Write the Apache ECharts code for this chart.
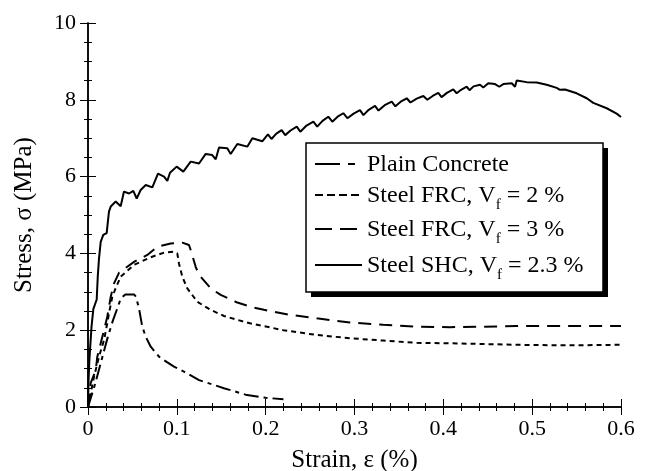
<!DOCTYPE html>
<html lang="en">
<head>
    <meta charset="UTF-8">
    <title>Stress-strain</title>
    <script src="https://cdn.jsdelivr.net/npm/echarts@6/dist/echarts.min.js"></script>
</head>
<body style="margin:0">
    <div id="main" style="width: 656px; height: 471px"></div>
    <script>
        // curves: [strain %, stress MPa]
        var plainConcrete = [[0,0],[0.008,0.6],[0.015,1.2],[0.022,1.8],[0.028,2.25],[0.033,2.57],[0.037,2.83],[0.042,2.93],
            [0.052,2.93],[0.054,2.87],[0.0574,2.57],[0.0611,2.09],[0.065,1.83],[0.0706,1.57],[0.0799,1.31],[0.0856,1.22],
            [0.0968,1.05],[0.108,0.92],[0.125,0.70],[0.153,0.49],[0.179,0.31],[0.2,0.24],[0.22,0.2]];

        var frc2 = [[0,0],[0.0068,0.79],[0.0124,1.31],[0.018,1.74],[0.0217,2.18],[0.0236,2.44],[0.0274,2.87],[0.0312,3.1],
            [0.037,3.4],[0.0518,3.7],[0.0706,3.9],[0.0856,4.02],[0.0949,4.04],[0.1005,4.0],[0.1024,3.74],[0.1062,3.39],
            [0.1118,3.09],[0.123,2.74],[0.1381,2.53],[0.1531,2.37],[0.1756,2.22],[0.1824,2.18],[0.2199,2.0],[0.2574,1.875],
            [0.2949,1.79],[0.3324,1.73],[0.37,1.67],[0.4075,1.66],[0.445,1.64],[0.4826,1.62],[0.52,1.61],[0.5576,1.61],[0.6,1.62]];

        var frc3 = [[0,0],[0.003,0.62],[0.0087,0.96],[0.0105,1.31],[0.0143,1.66],[0.018,2.0],[0.0217,2.35],[0.0256,2.87],
            [0.0293,3.22],[0.035,3.5],[0.0518,3.78],[0.0668,3.96],[0.078,4.17],[0.0931,4.26],[0.1062,4.28],[0.1137,4.22],
            [0.1163,4.04],[0.1212,3.65],[0.125,3.44],[0.1381,3.09],[0.1494,2.92],[0.1681,2.72],[0.1831,2.61],[0.198,2.53],
            [0.2274,2.40],[0.2574,2.31],[0.2949,2.20],[0.3324,2.14],[0.37,2.09],[0.4075,2.08],[0.445,2.09],[0.4826,2.11],
            [0.52,2.11],[0.5576,2.11],[0.6,2.11]];

        var shc = [[0,0],[0.0005,0.6],[0.0015,1.2],[0.0023,1.5],[0.004,2.1],[0.006,2.55],[0.0098,2.8],[0.011,3.4],[0.0124,3.87],
            [0.0143,4.3],[0.0172,4.48],[0.021,4.53],[0.0236,5.09],[0.0256,5.22],[0.0312,5.35],[0.0368,5.23],[0.0405,5.61],
            [0.0462,5.56],[0.051,5.63],[0.0548,5.43],[0.0593,5.65],[0.065,5.78],[0.0724,5.72],[0.0788,6.08],[0.0856,6.0],
            [0.0893,5.89],[0.0923,6.1],[0.0998,6.26],[0.1073,6.13],[0.1156,6.39],[0.125,6.34],[0.1325,6.59],[0.1399,6.56],
            [0.1438,6.45],[0.1475,6.76],[0.1568,6.74],[0.1606,6.59],[0.1681,6.85],[0.1793,6.78],[0.185,7.0],[0.1962,6.92],
            [0.2025,7.10],[0.2065,6.98],[0.212,7.12],[0.218,7.21],[0.222,7.08],[0.228,7.20],[0.235,7.30],[0.239,7.17],
            [0.246,7.33],[0.2537,7.43],[0.258,7.30],[0.264,7.45],[0.2705,7.56],[0.275,7.43],[0.281,7.56],[0.2874,7.65],
            [0.292,7.52],[0.299,7.64],[0.3062,7.73],[0.310,7.60],[0.316,7.74],[0.3231,7.84],[0.327,7.72],[0.334,7.86],
            [0.3419,7.95],[0.346,7.83],[0.352,7.95],[0.3588,8.04],[0.363,7.93],[0.370,8.03],[0.3775,8.10],[0.382,8.00],
            [0.388,8.10],[0.3943,8.18],[0.398,8.07],[0.404,8.18],[0.4112,8.27],[0.415,8.17],[0.42,8.26],[0.4263,8.34],
            [0.4295,8.25],[0.434,8.35],[0.4413,8.39],[0.445,8.32],[0.4506,8.43],[0.4582,8.41],[0.463,8.34],[0.4675,8.41],
            [0.477,8.43],[0.4807,8.34],[0.4826,8.50],[0.4938,8.46],[0.5051,8.45],[0.5163,8.39],[0.5276,8.31],[0.5313,8.26],
            [0.537,8.27],[0.5501,8.17],[0.5614,8.04],[0.5688,7.92],[0.5839,7.78],[0.5951,7.64],[0.6,7.55]];

        var names = ['Plain Concrete', 'Steel FRC, V{sub|f} = 2 %', 'Steel FRC, V{sub|f} = 3 %', 'Steel SHC, V{sub|f} = 2.3 %'];
        var font = 'Liberation Serif';

        function mkSeries(name, data, dash) {
            return {
                name: name, type: 'line', data: data, symbol: 'none',
                lineStyle: {color: '#000', width: 2, type: dash},
                itemStyle: {color: '#000'}
            };
        }

        // legend is drawn by hand: box with a solid drop shadow, line samples, rich text for the subscript
        var legendRows = [
            {y: 164, dash: [25, 8, 7, 30]},
            {y: 195, dash: [8, 4]},
            {y: 229, dash: [17, 8]},
            {y: 265, dash: null}
        ];
        var legendGraphics = [
            {type: 'rect', shape: {x: 311, y: 148, width: 297, height: 149}, style: {fill: '#000'}},
            {type: 'rect', shape: {x: 306, y: 143, width: 297, height: 149}, style: {fill: '#fff', stroke: '#000', lineWidth: 1.5}}
        ];
        legendRows.forEach(function(r, i) {
            legendGraphics.push({
                type: 'line', shape: {x1: 315, y1: r.y, x2: 362, y2: r.y},
                style: {stroke: '#000', lineWidth: 1.8, lineDash: r.dash}
            });
            legendGraphics.push({
                type: 'text', x: 367, y: r.y + 1,
                style: {
                    text: names[i], font: '24px "' + font + '"', fill: '#000', verticalAlign: 'middle',
                    rich: {
                        sub: {fontFamily: font, fontSize: 15, fill: '#000', lineHeight: 34, verticalAlign: 'bottom'}
                    }
                }
            });
        });

        var minorStyle = {color: '#000', width: 1};
        echarts.init(document.getElementById('main')).setOption({
            animation: false,
            backgroundColor: '#fff',
            grid: {left: 88, right: 35, top: 23, bottom: 64, outerBoundsMode: 'none', containLabel: false},
            graphic: legendGraphics,
            xAxis: [{
                type: 'value', min: 0, max: 0.6, interval: 0.1,
                name: 'Strain, ε (%)', nameLocation: 'middle', nameGap: 41,
                nameTextStyle: {fontFamily: font, fontSize: 25, color: '#000'},
                axisLine: {lineStyle: {color: '#000', width: 1.5}},
                axisTick: {inside: true, length: 8, lineStyle: {color: '#000'}},
                minorTick: {show: true, splitNumber: 5, length: -4, lineStyle: minorStyle},
                axisLabel: {fontFamily: font, fontSize: 22, color: '#000', margin: 11},
                splitLine: {show: false}
            }, {
                type: 'value', min: 0, max: 0.6, interval: 0.1, position: 'top',
                axisLine: {lineStyle: {color: '#000', width: 1.5}},
                axisTick: {inside: true, length: 8, lineStyle: {color: '#000'}},
                minorTick: {show: true, splitNumber: 5, length: -4, lineStyle: minorStyle},
                axisLabel: {show: false}, splitLine: {show: false}
            }],
            yAxis: [{
                type: 'value', min: 0, max: 10, interval: 2,
                name: 'Stress, σ (MPa)', nameLocation: 'middle', nameGap: 51,
                nameTextStyle: {fontFamily: font, fontSize: 25, color: '#000'},
                axisLine: {show: true, lineStyle: {color: '#000', width: 1.5}},
                axisTick: {show: true, inside: true, length: 8, lineStyle: {color: '#000'}},
                minorTick: {show: true, splitNumber: 4, length: -4, lineStyle: minorStyle},
                axisLabel: {fontFamily: font, fontSize: 22, color: '#000', margin: 12},
                splitLine: {show: false}
            }, {
                type: 'value', min: 0, max: 10, interval: 2, position: 'right',
                axisLine: {show: true, lineStyle: {color: '#000', width: 1.5}},
                axisTick: {show: true, inside: true, length: 8, lineStyle: {color: '#000'}},
                minorTick: {show: true, splitNumber: 4, length: -4, lineStyle: minorStyle},
                axisLabel: {show: false}, splitLine: {show: false}
            }],
            series: [
                mkSeries('Plain Concrete', plainConcrete, [15, 5, 4, 5]),
                mkSeries('Steel FRC 2%', frc2, [5, 4]),
                mkSeries('Steel FRC 3%', frc3, [13, 8]),
                mkSeries('Steel SHC 2.3%', shc, 'solid')
            ]
        });
    </script>
</body>
</html>
